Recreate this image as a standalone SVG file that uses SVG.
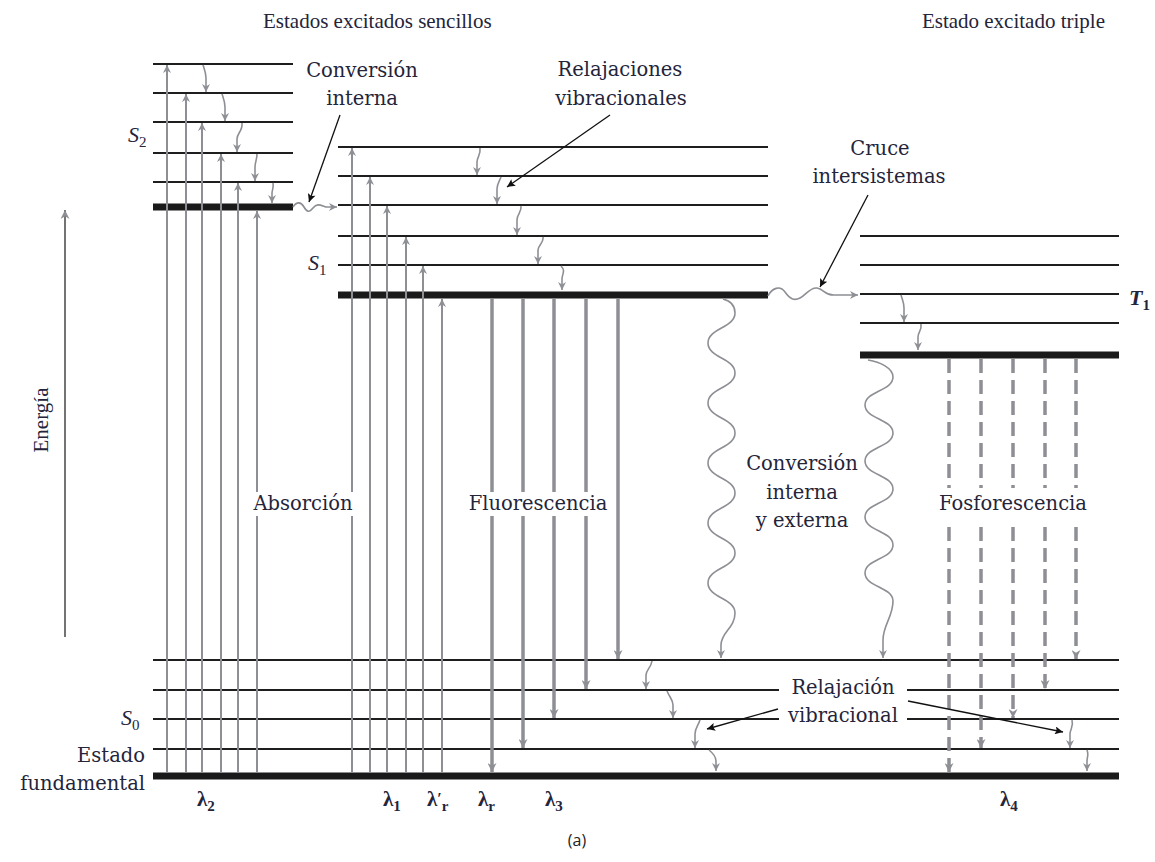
<svg xmlns="http://www.w3.org/2000/svg" width="1155" height="862" viewBox="0 0 1155 862">
<defs>
<style>
.lv{stroke:#1e1e1e;stroke-width:2;fill:none}
.bar{fill:#1a1a1a}
.ab{stroke:#8d8f94;stroke-width:2;fill:none;marker-end:url(#ag)}
.fl{stroke:#8d8f94;stroke-width:3.5;fill:none;marker-end:url(#agb)}
.ph{stroke:#8d8f94;stroke-width:3.5;fill:none;stroke-dasharray:14 7;marker-end:url(#agb)}
.rx{stroke:#8d8f94;stroke-width:1.6;fill:none;marker-end:url(#ags)}
.wv{stroke:#8d8f94;stroke-width:1.6;fill:none;marker-end:url(#ags)}
.an{stroke:#111;stroke-width:1.3;fill:none;marker-end:url(#ak)}
.t{font-family:"DejaVu Serif",serif;font-size:19.5px;fill:#24243a;text-anchor:middle}
.tt{font-family:"Liberation Serif",serif;font-size:21px;fill:#24243a}
.s{font-family:"Liberation Serif",serif;font-style:italic;font-size:22px;fill:#24243a}
.lam{font-family:"Liberation Serif",serif;font-weight:bold;font-size:21px;fill:#24243a}
.bg{fill:#fff}
</style>
<marker id="ag" viewBox="0 0 10 10" refX="10" refY="5" markerWidth="10" markerHeight="8" orient="auto" markerUnits="userSpaceOnUse"><path d="M0,0 L10,5 L0,10 L3,5 z" fill="#8d8f94"/></marker>
<marker id="agb" viewBox="0 0 10 10" refX="10" refY="5" markerWidth="12" markerHeight="9" orient="auto" markerUnits="userSpaceOnUse"><path d="M0,0 L10,5 L0,10 L3,5 z" fill="#8d8f94"/></marker>
<marker id="ags" viewBox="0 0 10 10" refX="10" refY="5" markerWidth="9" markerHeight="8" orient="auto" markerUnits="userSpaceOnUse"><path d="M0,0 L10,5 L0,10 L3,5 z" fill="#8d8f94"/></marker>
<marker id="ak" viewBox="0 0 10 10" refX="10" refY="5" markerWidth="12" markerHeight="8" orient="auto" markerUnits="userSpaceOnUse"><path d="M0,0 L10,5 L0,10 L2,5 z" fill="#111"/></marker>
</defs>
<rect width="1155" height="862" fill="#fff"/>

<g id="titles">
<text class="tt" x="263" y="28">Estados excitados sencillos</text>
<text class="tt" x="1105" y="28" text-anchor="end">Estado excitado triple</text>
</g>

<g id="energy-axis">
<line x1="65" y1="637" x2="65" y2="210" stroke="#444" stroke-width="1.5" marker-end="url(#agb)"/>
<text class="tt" transform="translate(48,420) rotate(-90)" text-anchor="middle">Energía</text>
</g>

<g id="S2">
<line class="lv" x1="153" y1="64" x2="293" y2="64"/>
<line class="lv" x1="153" y1="93" x2="293" y2="93"/>
<line class="lv" x1="153" y1="122" x2="293" y2="122"/>
<line class="lv" x1="153" y1="153" x2="293" y2="153"/>
<line class="lv" x1="153" y1="182" x2="293" y2="182"/>
<rect class="bar" x="153" y="203.5" width="140" height="7"/>
<text class="s" x="128" y="142">S<tspan font-size="15" dy="5" font-style="normal">2</tspan></text>
</g>

<g id="S1">
<line class="lv" x1="338" y1="147" x2="768" y2="147"/>
<line class="lv" x1="338" y1="176" x2="768" y2="176"/>
<line class="lv" x1="338" y1="205" x2="768" y2="205"/>
<line class="lv" x1="338" y1="236" x2="768" y2="236"/>
<line class="lv" x1="338" y1="265" x2="768" y2="265"/>
<rect class="bar" x="338" y="291.5" width="430" height="7"/>
<text class="s" x="308" y="270">S<tspan font-size="15" dy="5" font-style="normal">1</tspan></text>
</g>

<g id="T1">
<line class="lv" x1="860" y1="236" x2="1119" y2="236"/>
<line class="lv" x1="860" y1="265" x2="1119" y2="265"/>
<line class="lv" x1="860" y1="294" x2="1119" y2="294"/>
<line class="lv" x1="860" y1="323" x2="1119" y2="323"/>
<rect class="bar" x="860" y="351.5" width="259" height="7"/>
<text class="s" x="1129" y="305" font-weight="bold">T<tspan font-size="15" dy="5" font-style="normal">1</tspan></text>
</g>

<g id="S0">
<line class="lv" x1="153" y1="660" x2="1119" y2="660"/>
<line class="lv" x1="153" y1="690" x2="1119" y2="690"/>
<line class="lv" x1="153" y1="719" x2="1119" y2="719"/>
<line class="lv" x1="153" y1="749" x2="1119" y2="749"/>
<rect class="bar" x="153" y="772.5" width="966" height="7"/>
<text class="s" x="121" y="725">S<tspan font-size="15" dy="5" font-style="normal">0</tspan></text>
<text class="t" x="145" y="762" style="text-anchor:end">Estado</text>
<text class="t" x="145" y="790" style="text-anchor:end">fundamental</text>
</g>

<g id="connectors">
<line class="ab" x1="167" y1="772" x2="167" y2="65"/>
<line class="ab" x1="186" y1="772" x2="186" y2="94"/>
<line class="ab" x1="202" y1="772" x2="202" y2="123"/>
<line class="ab" x1="221" y1="772" x2="221" y2="154"/>
<line class="ab" x1="238" y1="772" x2="238" y2="183"/>
<line class="ab" x1="257" y1="772" x2="257" y2="211"/>
<line class="ab" x1="352" y1="772" x2="352" y2="148"/>
<line class="ab" x1="370" y1="772" x2="370" y2="177"/>
<line class="ab" x1="387" y1="772" x2="387" y2="206"/>
<line class="ab" x1="406" y1="772" x2="406" y2="237"/>
<line class="ab" x1="423" y1="772" x2="423" y2="266"/>
<line class="ab" x1="442" y1="772" x2="442" y2="299"/>
<line class="fl" x1="492" y1="299" x2="492" y2="772"/>
<line class="fl" x1="523" y1="299" x2="523" y2="748"/>
<line class="fl" x1="554" y1="299" x2="554" y2="718"/>
<line class="fl" x1="586" y1="299" x2="586" y2="689"/>
<line class="fl" x1="618" y1="299" x2="618" y2="659"/>
<line class="ph" x1="949" y1="359" x2="949" y2="772"/>
<line class="ph" x1="981" y1="359" x2="981" y2="748"/>
<line class="ph" x1="1013" y1="359" x2="1013" y2="718"/>
<line class="ph" x1="1045" y1="359" x2="1045" y2="689"/>
<line class="ph" x1="1076" y1="359" x2="1076" y2="659"/>
<path class="rx" d="M203,65 C205,71 206,73 206,78 L206,92"/>
<path class="rx" d="M222,94 C224,100 225,102 225,107 L225,121"/>
<path class="rx" d="M242,123 C243,131 237,133 237,139 L237,152"/>
<path class="rx" d="M257,154 C257,160 255,162 255,167 L255,181"/>
<path class="rx" d="M273,183 C274,188 272,190 272,193 L272,203"/>
<path class="rx" d="M480,148 C481,155 477,157 477,162 L477,175"/>
<path class="rx" d="M501,177 C499,182 497,184 497,189 L497,204"/>
<path class="rx" d="M521,206 C522,212 517,214 517,220 L517,235"/>
<path class="rx" d="M543,237 C544,243 538,245 538,250 L538,264"/>
<path class="rx" d="M561,266 C566,271 562,274 562,279 L562,290"/>
<path class="rx" d="M901,295 C903,302 904,303 904,308 L904,322"/>
<path class="rx" d="M921,324 C922,331 918,332 918,337 L918,350"/>
<path class="rx" d="M652,661 C651,668 646,670 646,675 L646,689"/>
<path class="rx" d="M667,691 C670,698 673,700 673,705 L673,718"/>
<path class="rx" d="M700,720 C698,726 695,728 695,734 L695,748"/>
<path class="rx" d="M709,750 C714,754 716,757 716,761 L716,771"/>
<path class="rx" d="M1072,720 C1074,727 1070,729 1070,734 L1070,748"/>
<path class="rx" d="M1087,750 C1089,755 1087,757 1087,761 L1087,771"/>
<path class="wv" d="M293,207 C297,201 301,202 304,207 S309,213 313,208 S320,205 326,207 L337,207"/>
<path class="wv" d="M768,296 C772,288 780,285 785,292 S794,301 800,298 S810,287 817,288 S825,296 835,295 L858,295"/>
<path class="wv" d="M723,299 C731,301 735,306 735,313 C735,328 708,328 708,343 C708,358 735,358 735,373 C735,388 708,388 708,403 C708,418 735,418 735,433 C735,448 708,448 708,463 C708,478 735,478 735,493 C735,508 708,508 708,523 C708,538 735,538 735,553 C735,568 708,568 708,583 C708,598 735,598 735,613 C735,628 721,632 721,645 L721,658"/>
<path class="wv" d="M868,360 C880,362 893,368 893,377 C893,391 865,391 865,405 C865,419 893,419 893,433 C893,447 865,447 865,461 C865,475 893,475 893,489 C893,503 865,503 865,517 C865,531 893,531 893,545 C893,559 865,559 865,573 C865,587 893,587 893,601 C893,617 883,625 883,640 L883,658"/>
<line class="an" x1="340" y1="115" x2="309" y2="202"/>
<line class="an" x1="610" y1="115" x2="507" y2="187"/>
<line class="an" x1="868" y1="195" x2="820" y2="287"/>
<line class="an" x1="778" y1="709" x2="707" y2="729"/>
<line class="an" x1="908" y1="701" x2="1063" y2="732"/>
</g>

<g id="labels">
<text class="t" x="362" y="77">Conversión</text>
<text class="t" x="362" y="105">interna</text>
<text class="t" x="620" y="76">Relajaciones</text>
<text class="t" x="621" y="105">vibracionales</text>
<text class="t" x="880" y="155">Cruce</text>
<text class="t" x="879" y="183">intersistemas</text>
<rect class="bg" x="250" y="492" width="106" height="24"/>
<text class="t" x="303" y="510">Absorción</text>
<rect class="bg" x="467" y="492" width="142" height="24"/>
<text class="t" x="538" y="510">Fluorescencia</text>
<text class="t" x="802" y="470">Conversión</text>
<text class="t" x="802" y="499">interna</text>
<text class="t" x="802" y="527">y externa</text>
<rect class="bg" x="933" y="488" width="160" height="32"/>
<text class="t" x="1013" y="510">Fosforescencia</text>
<rect class="bg" x="779" y="676" width="128" height="52"/>
<text class="t" x="843" y="694">Relajación</text>
<text class="t" x="843" y="722">vibracional</text>
</g>

<g id="wavelengths">
<text class="lam" x="197" y="806">λ<tspan font-size="15" dy="5">2</tspan></text>
<text class="lam" x="383" y="806">λ<tspan font-size="15" dy="5">1</tspan></text>
<text class="lam" x="427" y="806">λ<tspan dy="-2" font-size="16">′</tspan><tspan font-size="15" dy="7">r</tspan></text>
<text class="lam" x="478" y="806">λ<tspan font-size="15" dy="5">r</tspan></text>
<text class="lam" x="545" y="806">λ<tspan font-size="15" dy="5">3</tspan></text>
<text class="lam" x="1000" y="806">λ<tspan font-size="15" dy="5">4</tspan></text>
</g>

<text x="577" y="846" font-family="Open Sans, sans-serif" font-size="16" fill="#222" text-anchor="middle">(a)</text>
</svg>
